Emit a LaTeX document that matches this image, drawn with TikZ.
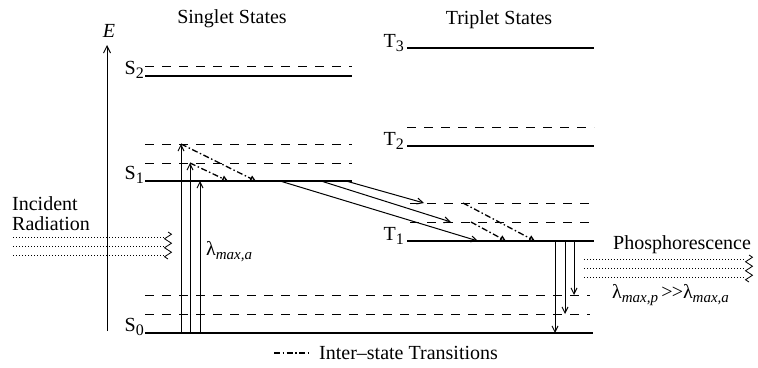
\documentclass[tikz,border=0pt]{standalone}
\usepackage{fontspec}
\setmainfont{Liberation Serif}
\usetikzlibrary{arrows.meta,decorations.pathmorphing}
\newcommand\lsub[1]{\raisebox{-0.45ex}{\fontsize{16}{16}\selectfont #1}}
\newcommand\isub[1]{\raisebox{-0.5ex}{\fontsize{15}{15}\selectfont\itshape #1}}
\begin{document}
\begin{tikzpicture}[x=1pt,y=-1pt,
  every node/.style={font=\fontsize{20}{22}\selectfont, inner sep=0pt},
  lvl/.style={line width=1.8pt},
  vib/.style={line width=1pt, dash pattern=on 9pt off 8pt},
  trans/.style={line width=1pt, -{Straight Barb[length=6pt,width=6pt]}},
  isc/.style={line width=1.3pt, dash pattern=on 6pt off 2.5pt on 1.5pt off 2.5pt, -{Triangle[open,length=6pt,width=6pt]}},
  ray/.style={line width=1pt, dotted},
  wig/.style={line width=0.8pt, decorate, decoration={zigzag, segment length=9pt, amplitude=3.5pt}}]
\useasboundingbox (0,0) rectangle (758,367);

% titles
\node[anchor=base] (tS) at (232,23) {Singlet States};
\node[anchor=base] (tT) at (499,24) {Triplet States};

% energy axis
\coordinate (ax0) at (107,331);
\coordinate (ax1) at (107,45);
\draw[line width=1pt, -{Straight Barb[length=7pt,width=7pt]}] (ax0) -- (ax1);
\node (E) at (109,31) {\itshape E};

% singlet levels
\coordinate (s2a) at (145,76);  \coordinate (s2b) at (352,76);
\coordinate (s1a) at (145,181); \coordinate (s1b) at (352,181);
\coordinate (s0a) at (145,333); \coordinate (s0b) at (593,333);
\draw[lvl] (s2a) -- (s2b);
\draw[lvl] (s1a) -- (s1b);
\draw[lvl] (s0a) -- (s0b);
\draw[vib] (145,66) -- (352,66);
\draw[vib] (145,144) -- (352,144);
\draw[vib] (145,163) -- (352,163);
\draw[vib] (145,295) -- (590,295);
\draw[vib] (145,314) -- (590,314);
\node[anchor=base east] (S2) at (144,74) {S\lsub{2}};
\node[anchor=base east] (S1) at (144,179) {S\lsub{1}};
\node[anchor=base east] (S0) at (144,331) {S\lsub{0}};

% triplet levels
\coordinate (t3a) at (407,48);  \coordinate (t3b) at (594,48);
\coordinate (t2a) at (407,146); \coordinate (t2b) at (594,146);
\coordinate (t1a) at (407,241); \coordinate (t1b) at (594,241);
\draw[lvl] (t3a) -- (t3b);
\draw[lvl] (t2a) -- (t2b);
\draw[lvl] (t1a) -- (t1b);
\draw[vib] (407,127) -- (594,127);
\draw[vib] (410,203) -- (594,203);
\draw[vib] (410,222) -- (594,222);
\node[anchor=base east] (T3) at (404,47) {T\lsub{3}};
\node[anchor=base east] (T2) at (404,145) {T\lsub{2}};
\node[anchor=base east] (T1) at (404,240) {T\lsub{1}};

% absorption
\coordinate (a1b) at (181,333); \coordinate (a1t) at (181,144);
\coordinate (a2b) at (190,333); \coordinate (a2t) at (190,163);
\coordinate (a3b) at (200,333); \coordinate (a3t) at (200,181);
\draw[trans] (a1b) -- (a1t);
\draw[trans] (a2b) -- (a2t);
\draw[trans] (a3b) -- (a3t);
\node[anchor=base west] (la) at (206,255) {λ\isub{max,a}};

% internal conversion in singlet
\coordinate (ic1) at (256,181);
\coordinate (ic2) at (228,181);
\draw[isc] (a1t) -- (ic1);
\draw[isc] (a2t) -- (ic2);

% intersystem crossing
\coordinate (x1a) at (346,181); \coordinate (x1b) at (424,203);
\coordinate (x2a) at (321,181); \coordinate (x2b) at (451,222);
\coordinate (x3a) at (280,181); \coordinate (x3b) at (478,241);
\draw[trans] (x1a) -- (x1b);
\draw[trans] (x2a) -- (x2b);
\draw[trans] (x3a) -- (x3b);

% internal conversion in triplet
\coordinate (v1a) at (463,203); \coordinate (v1b) at (535,241);
\coordinate (v2a) at (471,222); \coordinate (v2b) at (506,241);
\draw[isc] (v1a) -- (v1b);
\draw[isc] (v2a) -- (v2b);

% phosphorescence transitions
\coordinate (p1a) at (555,241); \coordinate (p1b) at (555,333);
\coordinate (p2a) at (565,241); \coordinate (p2b) at (565,314);
\coordinate (p3a) at (574,241); \coordinate (p3b) at (574,295);
\draw[trans] (p1a) -- (p1b);
\draw[trans] (p2a) -- (p2b);
\draw[trans] (p3a) -- (p3b);

% incident radiation
\node[anchor=base west] (inc) at (12,210) {Incident};
\node[anchor=base west] (rad) at (12,230) {Radiation};
\coordinate (i1a) at (13,237); \coordinate (i1b) at (164,237);
\coordinate (i2a) at (13,246); \coordinate (i2b) at (164,246);
\coordinate (i3a) at (13,255); \coordinate (i3b) at (164,255);
\draw[ray] (i1a) -- (i1b);
\draw[ray] (i2a) -- (i2b);
\draw[ray] (i3a) -- (i3b);
\coordinate (iw0) at (168,232); \coordinate (iw1) at (168,259);
\draw[wig] (iw0) -- (iw1);

% phosphorescence emission
\node[anchor=base west] (ph) at (613,249) {Phosphorescence};
\coordinate (e1a) at (584,259); \coordinate (e1b) at (745,259);
\coordinate (e2a) at (584,268); \coordinate (e2b) at (745,268);
\coordinate (e3a) at (584,277); \coordinate (e3b) at (745,277);
\draw[ray] (e1a) -- (e1b);
\draw[ray] (e2a) -- (e2b);
\draw[ray] (e3a) -- (e3b);
\coordinate (ew0) at (749,255); \coordinate (ew1) at (749,282);
\draw[wig] (ew0) -- (ew1);
\node[anchor=base west] (lp) at (612,298) {λ\isub{max,p}\,\textgreater\kern-1pt\textgreater λ\isub{max,a}};

% legend
\coordinate (lg0) at (274,353); \coordinate (lg1) at (311,353);
\draw[line width=1.3pt, dash pattern=on 6pt off 2.5pt on 1.5pt off 2.5pt] (lg0) -- (lg1);
\node[anchor=base west] (lgt) at (319,359) {Inter–state Transitions};
\end{tikzpicture}
\end{document}
